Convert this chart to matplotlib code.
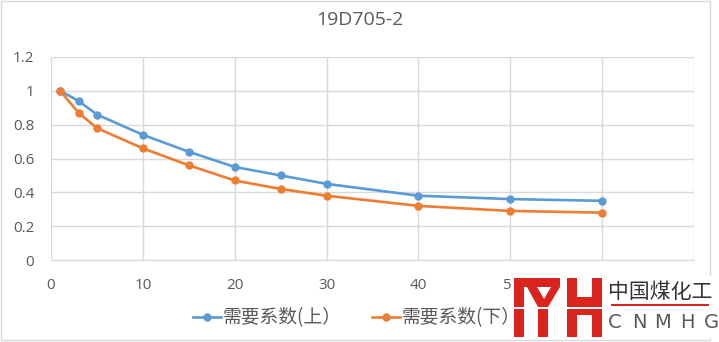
import matplotlib
matplotlib.use("Agg")
import matplotlib.pyplot as plt
from matplotlib.patches import Rectangle, Polygon
from matplotlib.lines import Line2D

plt.rcParams['font.family'] = ['Open Sans', 'Noto Sans CJK SC', 'DejaVu Sans']

title = "19D705-2"
x_vals = [1, 3, 5, 10, 15, 20, 25, 30, 40, 50, 60]
upper = [1.0, 0.94, 0.86, 0.74, 0.64, 0.55, 0.50, 0.45, 0.38, 0.36, 0.35]
lower = [1.0, 0.87, 0.78, 0.66, 0.56, 0.47, 0.42, 0.38, 0.32, 0.29, 0.28]
upper_label = "需要系数(上）"
lower_label = "需要系数(下）"
x_ticks = [0, 10, 20, 30, 40, 50, 60, 70]
# 60 and 70 sit under the logo
x_ticklabels = ["0", "10", "20", "30", "40", "50", "", ""]
y_ticks = [0, 0.2, 0.4, 0.6, 0.8, 1.0, 1.2]
y_ticklabels = ["0", "0.2", "0.4", "0.6", "0.8", "1", "1.2"]

BLUE = "#5B9BD5"
ORANGE = "#ED7D31"
GRID = "#D9D9D9"
TEXT = "#595959"

W, H = 719, 342
fig = plt.figure(figsize=(W / 100, H / 100), dpi=100)


def fx(px):
    return px / W


def fy(py):
    return 1 - py / H


def box(x0, y0, x1, y1, color):
    # rectangle given in pixel corners (top-left origin)
    return Rectangle((fx(x0), fy(y1)), fx(x1 - x0), (y1 - y0) / H,
                     transform=fig.transFigure, facecolor=color,
                     edgecolor="none")


def poly(points, color):
    return Polygon([(fx(x), fy(y)) for x, y in points],
                   transform=fig.transFigure, facecolor=color,
                   edgecolor="none")


# chart frame
fig.patches.append(Rectangle((fx(1), fy(340)), fx(709), 339 / H,
                             transform=fig.transFigure, fill=False,
                             edgecolor=GRID, linewidth=1))

ax = fig.add_axes([fx(51), fy(260), fx(694) - fx(51), fy(57) - fy(260)])
ax.plot(x_vals, upper, color=BLUE, linewidth=1.9, marker="o",
        markersize=5, label=upper_label, zorder=3)
ax.plot(x_vals, lower, color=ORANGE, linewidth=1.9, marker="o",
        markersize=5, label=lower_label, zorder=3)

ax.set_xlim(0, 70)
ax.set_ylim(0, 1.2)
ax.set_xticks(x_ticks)
ax.set_xticklabels(x_ticklabels)
ax.set_yticks(y_ticks)
ax.set_yticklabels(y_ticklabels)
ax.grid(True, color=GRID, linewidth=1)
ax.set_axisbelow(True)
for side in ["top", "right", "left"]:
    ax.spines[side].set_visible(False)
ax.spines["bottom"].set_color(GRID)
ax.tick_params(length=0, labelsize=11, labelcolor=TEXT)
ax.tick_params(axis="x", pad=13)
ax.tick_params(axis="y", pad=12)

fig.text(0.5, fy(20), title, ha="center", va="center",
         fontsize=14, color=TEXT)

handles = [Line2D([], [], color=BLUE, linewidth=1.9, marker="o", markersize=5),
           Line2D([], [], color=ORANGE, linewidth=1.9, marker="o", markersize=5)]
fig.legend(handles, [upper_label, lower_label], loc="center",
           bbox_to_anchor=(fx(357), fy(318)), ncol=2, frameon=False,
           prop={"family": ["Noto Sans CJK SC"], "size": 13.5},
           labelcolor=TEXT, handlelength=1.5, handletextpad=0.1,
           columnspacing=1.6)

# CNMHG logo in the lower right, on its own white ground
red = "#D9251D"
logo = [
    box(511, 276, 716, 338, "white"),
    box(514, 278, 524, 337, red),
    box(514, 278, 560, 287, red),
    poly([(527, 287), (560, 287), (548, 307), (538, 307)], red),
    poly([(537, 287), (551, 287), (544, 299)], "white"),
    box(538, 306, 548, 337, red),
    box(567, 278, 577, 337, red),
    box(592, 278, 602, 337, red),
    box(577, 297, 592, 315, red),
    box(512, 307, 604, 309, "white"),
    box(611, 303.5, 709, 305.5, red),
]
for p in logo:
    fig.patches.append(p)
fig.text(fx(660), fy(292), "中国煤化工", ha="center", va="center",
         fontsize=15, color="#333333", family=["Noto Sans CJK SC"])
for i, ch in enumerate("CNMHG"):
    fig.text(fx(615 + i * 24), fy(323), ch, ha="center", va="center",
             fontsize=14, color="#595959", family=["DejaVu Sans"])

fig.savefig("out.png", dpi=100)
